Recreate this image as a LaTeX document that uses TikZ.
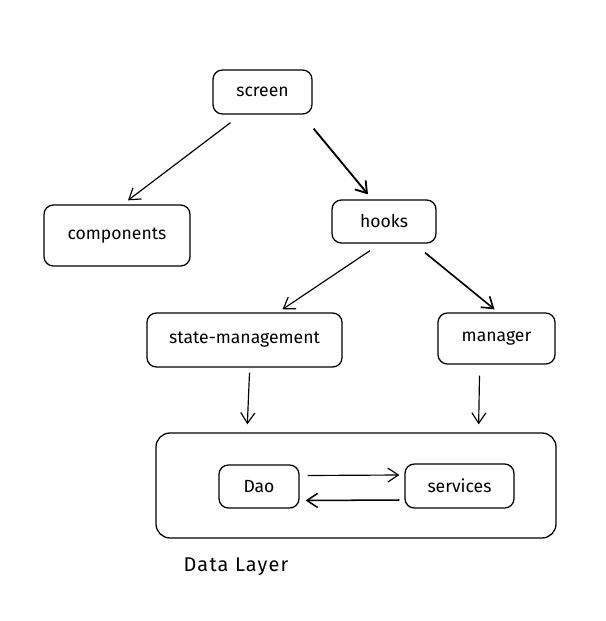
\documentclass[tikz,border=0pt]{standalone}
\usepackage{fontspec}
\setmainfont{Fira Sans}
\usetikzlibrary{arrows.meta,calc}

\begin{document}
\begin{tikzpicture}[x=0.03cm, y=-0.03cm,
  box/.style={draw, line width=1.1pt, rounded corners=8pt, inner sep=0pt, font=\fontsize{15}{17}\selectfont},
  arr/.style={line width=1pt, -{Straight Barb[length=9pt,width=12pt]}}]

\useasboundingbox (0,0) rectangle (605,621) ;

\node [box, minimum width=2.97cm, minimum height=1.32cm] (screen) at (262.5, 92) {screen} ;
\node [box, minimum width=4.38cm, minimum height=1.83cm] (components) at (117, 235.5) {components} ;
\node [box, minimum width=3.12cm, minimum height=1.29cm] (hooks) at (384, 221.5) {hooks} ;
\node [box, minimum width=5.85cm, minimum height=1.62cm] (state) at (244.5, 340) {state-management} ;
\node [box, minimum width=3.51cm, minimum height=1.53cm] (manager) at (496.5, 338.5) {manager} ;

\node [box, rounded corners=12pt, minimum width=12cm, minimum height=3.15cm] (datalayer) at (356, 485.5) {} ;
\node [box, minimum width=2.4cm, minimum height=1.29cm] (dao) at (259, 486.5) {Dao} ;
\node [box, minimum width=3.27cm, minimum height=1.32cm] (services) at (459.5, 486) {services} ;

\node [font=\fontsize{17}{19}\selectfont\addfontfeature{LetterSpace=6}] (label) at (236, 567) {Data Layer} ;

\draw [arr] ($(screen.south)+(-32,8)$) -- ($(components.north)+(11,-4)$) ;
\draw [arr, line width=1.6pt] ($(screen.south east)+(1,14)$) -- ($(hooks.north)+(-16,-5)$) ;
\draw [arr] ($(hooks.south)+(-14,7)$) -- ($(state.north)+(38,-3)$) ;
\draw [arr, line width=1.4pt] ($(hooks.south)+(41,9)$) -- ($(manager.north)+(-2,-3)$) ;

\draw [arr] ($(state.south)+(5,5)$) -- ($(datalayer.north west)+(92,-8)$) ;
\draw [arr] ($(manager.south)+(-17,11)$) -- ($(datalayer.north east)+(-78,-8)$) ;

\draw [arr] ($(dao.east)+(8,-11)$) -- ($(services.west)+(-5,-11)$) ;
\draw [arr, line width=1.3pt] ($(services.west)+(-5,14)$) -- ($(dao.east)+(6,14)$) ;

\end{tikzpicture}
\end{document}
